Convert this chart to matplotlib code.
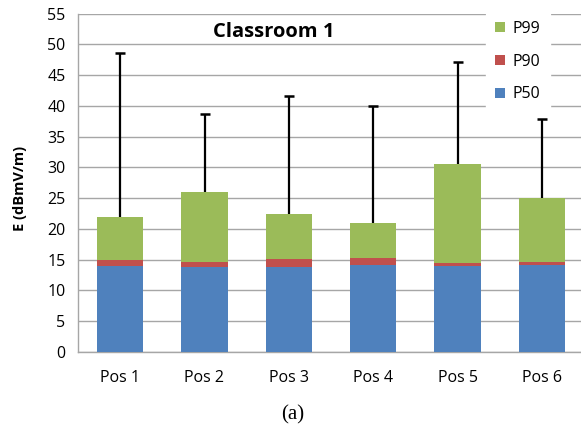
import matplotlib
matplotlib.use("Agg")
import matplotlib.pyplot as plt
import numpy as np
from matplotlib.patches import Patch

positions = ["Pos 1", "Pos 2", "Pos 3", "Pos 4", "Pos 5", "Pos 6"]
p50 = [14.0, 13.8, 13.8, 14.1, 14.0, 14.1]
p90 = [14.9, 14.6, 15.1, 15.3, 14.5, 14.6]
p99 = [22.0, 26.0, 22.4, 20.9, 30.5, 25.1]
e_max = [48.6, 38.6, 41.6, 39.9, 47.1, 37.9]

blue = "#4F81BD"
red = "#C0504D"
green = "#9BBB59"
grid_c = "#A6A6A6"

plt.rcParams["font.family"] = ["Open Sans", "DejaVu Sans"]

fig = plt.figure(figsize=(5.81, 4.30), dpi=100)
ax = fig.add_axes([78 / 581, 1 - 352 / 430, (584 - 78) / 581, (352 - 13.5) / 430])

x = np.arange(len(positions))
w = 0.55
s50 = np.array(p50)
s90 = np.array(p90) - s50
s99 = np.array(p99) - np.array(p90)

ax.bar(x, s50, w, color=blue, zorder=3)
ax.bar(x, s90, w, bottom=s50, color=red, zorder=3)
ax.bar(x, s99, w, bottom=np.array(p90), color=green, zorder=3)

# upward-only error bars with a cap at the top
ax.vlines(x, p99, e_max, color="black", linewidth=1.6, zorder=4)
ax.plot(x, e_max, linestyle="none", marker="_", markersize=7,
        markeredgewidth=1.8, color="black", zorder=4)

ax.set_ylim(0, 55)
ax.set_xlim(-0.5, len(positions) - 0.5)
ax.set_yticks(np.arange(0, 56, 5))
ax.set_xticks(x)
ax.set_xticklabels(positions)
ax.yaxis.grid(True, color=grid_c, linewidth=1.0, zorder=0)
ax.set_axisbelow(True)
ax.tick_params(axis="y", length=0, pad=9, labelsize=11.5, colors="black")
ax.tick_params(axis="x", length=0, pad=13, labelsize=11.5)
for side in ["top", "right"]:
    ax.spines[side].set_visible(False)
for side in ["left", "bottom"]:
    ax.spines[side].set_color(grid_c)
    ax.spines[side].set_linewidth(1.0)

ax.set_ylabel("E (dBmV/m)", fontsize=10.5, fontweight="bold")
ax.yaxis.set_label_coords(-(78 - 27) / 506, 1 - (188 - 13.5) / 338.5)
ax.text(0.386, 0.946, "Classroom 1", transform=ax.transAxes, ha="center", va="center",
        fontsize=14.5, fontweight="bold")

handles = [Patch(facecolor=green, label="P99"),
           Patch(facecolor=red, label="P90"),
           Patch(facecolor=blue, label="P50")]
leg = ax.legend(handles=handles, loc="upper left", bbox_to_anchor=(0.79, 1.03),
                frameon=True, fontsize=11.5, handlelength=0.6, handleheight=0.6,
                handletextpad=0.5, labelspacing=1.05, borderpad=0.6)
leg.get_frame().set_edgecolor("white")
leg.get_frame().set_facecolor("white")
leg.get_frame().set_alpha(1.0)
leg.set_zorder(5)

fig.text(293 / 581, 1 - 415 / 430, "(a)", ha="center", va="center",
         fontsize=15, family=["Liberation Serif", "DejaVu Serif"])

fig.savefig("out.png", dpi=100)
